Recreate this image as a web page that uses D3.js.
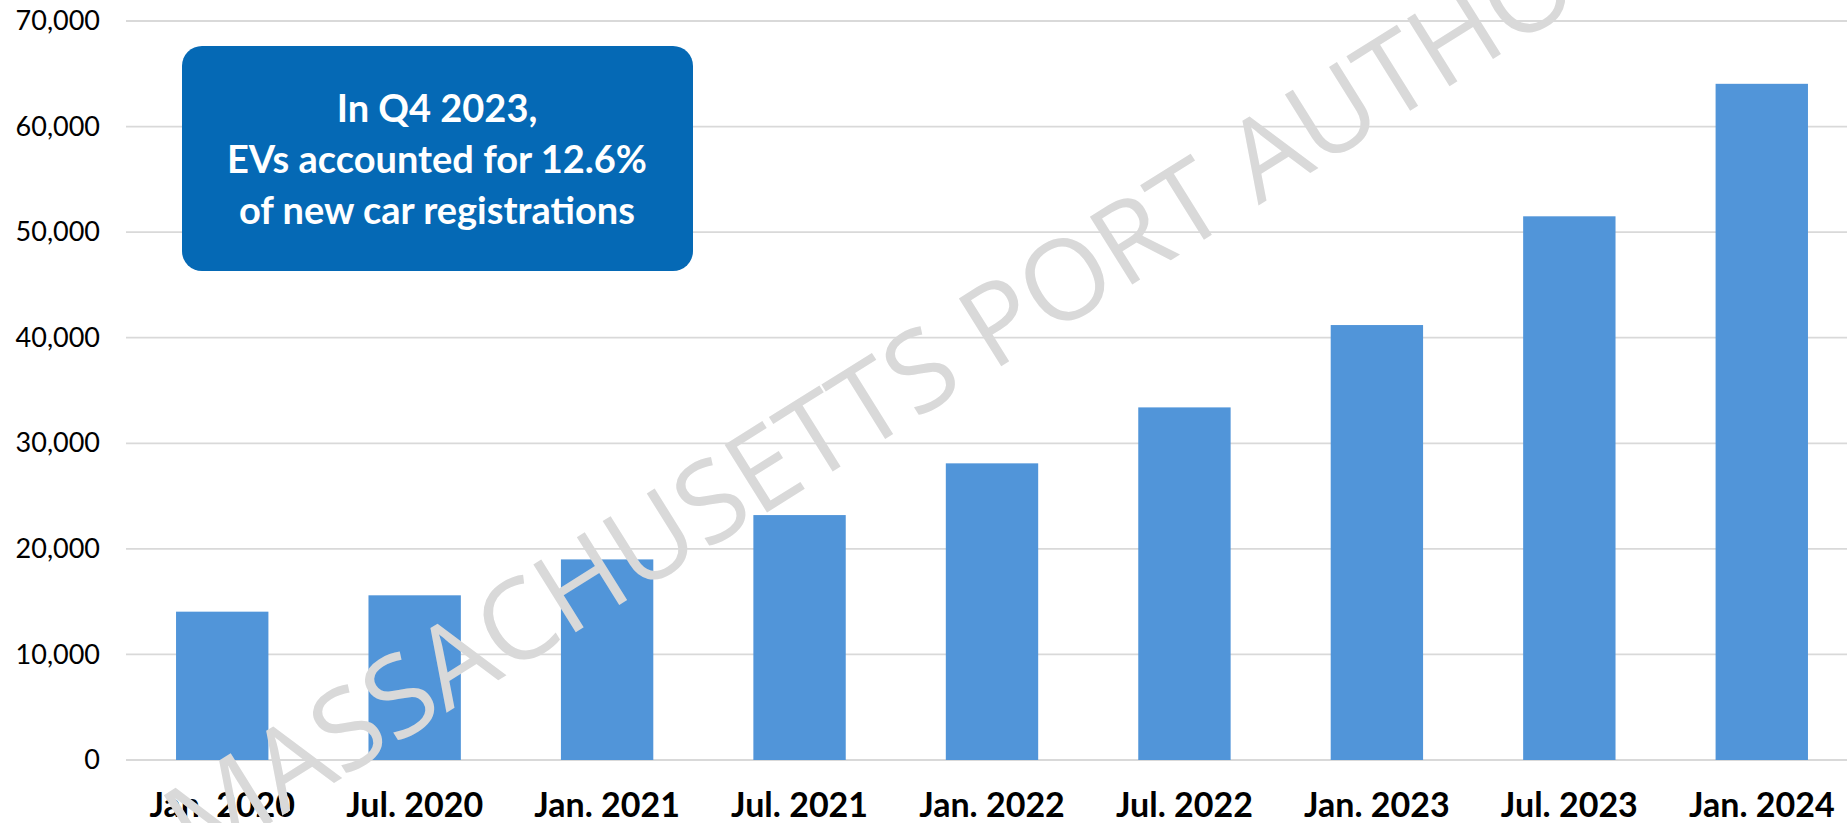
<!DOCTYPE html>
<html lang="en">
<head>
<meta charset="UTF-8">
<title>EV registrations</title>
<script src="https://cdn.jsdelivr.net/npm/d3@7"></script>
<style>
  html, body { margin: 0; padding: 0; background: #fff; }
  svg { display: block; }
</style>
</head>
<body>
<svg id="chart"></svg>
<script>
// data
const periods = ["Jan. 2020", "Jul. 2020", "Jan. 2021", "Jul. 2021", "Jan. 2022",
                 "Jul. 2022", "Jan. 2023", "Jul. 2023", "Jan. 2024"];
const evCounts = [14050, 15600, 19000, 23200, 28100, 33400, 41200, 51500, 64050];
const yTicks = [0, 10000, 20000, 30000, 40000, 50000, 60000, 70000];
const calloutLines = ["In Q4 2023,", "EVs accounted for 12.6%", "of new car registrations"];
const watermark = "MASSACHUSETTS PORT AUTHORITY";

const W = 1847, H = 823;
const plot = {left: 126, right: 1858, top: 21, bottom: 760};

const svg = d3.select("#chart").attr("width", W).attr("height", H);

const x = d3.scaleBand()
    .domain(periods)
    .range([plot.left, plot.right])
    .paddingInner(0.52)
    .paddingOuter(0.26);

const y = d3.scaleLinear()
    .domain([0, 70000])
    .range([plot.bottom, plot.top]);

// gridlines
svg.append("g")
    .selectAll("line")
    .data(yTicks)
    .join("line")
    .attr("x1", plot.left)
    .attr("x2", W)
    .attr("y1", d => y(d))
    .attr("y2", d => y(d))
    .attr("stroke", "#d9d9d9")
    .attr("stroke-width", 1.8);

// y axis labels
const yAxis = svg.append("g")
    .attr("transform", "translate(100,0)")
    .call(d3.axisLeft(y).tickValues(yTicks).tickSize(0).tickPadding(0).tickFormat(d3.format(",")));
yAxis.select(".domain").remove();
yAxis.selectAll("text")
    .attr("font-family", "Lato, sans-serif")
    .attr("font-size", 27)
    .attr("fill", "#000");

// bars
svg.append("g")
    .selectAll("rect")
    .data(evCounts)
    .join("rect")
    .attr("x", (d, i) => x(periods[i]))
    .attr("y", d => y(d))
    .attr("width", x.bandwidth())
    .attr("height", d => y(0) - y(d))
    .attr("fill", "#5195d9");

// x axis labels
const xAxis = svg.append("g")
    .attr("transform", "translate(0," + plot.bottom + ")")
    .call(d3.axisBottom(x).tickSize(0).tickPadding(0));
xAxis.select(".domain").remove();
xAxis.selectAll("text")
    .attr("y", 57)
    .attr("dy", 0)
    .attr("font-family", "Lato, sans-serif")
    .attr("font-weight", 700)
    .attr("font-size", 34)
    .attr("fill", "#000");

// callout box
const box = svg.append("g");
box.append("rect")
    .attr("x", 182)
    .attr("y", 46)
    .attr("width", 511)
    .attr("height", 225)
    .attr("rx", 20)
    .attr("fill", "#0569b5");
box.selectAll("text")
    .data(calloutLines)
    .join("text")
    .attr("x", 437)
    .attr("y", (d, i) => 122 + i * 51)
    .attr("text-anchor", "middle")
    .attr("font-family", "Lato, sans-serif")
    .attr("font-weight", 700)
    .attr("font-size", 38)
    .attr("fill", "#fff")
    .text(d => d);

// watermark over everything
const angle = -32;
const wm = svg.append("text")
    .attr("font-family", "'Open Sans', sans-serif")
    .attr("font-weight", 400)
    .attr("font-size", 112)
    .attr("fill", "#d9d9d9")
    .text(watermark);
const prefix = wm.node().getSubStringLength(0, watermark.indexOf("PORT"));
const px = 992, py = 372; // where "PORT" starts on the baseline
const rad = angle * Math.PI / 180;
wm.attr("transform", "translate(" + (px - prefix * Math.cos(rad)) + "," + (py - prefix * Math.sin(rad)) + ") rotate(" + angle + ")");
</script>
</body>
</html>
